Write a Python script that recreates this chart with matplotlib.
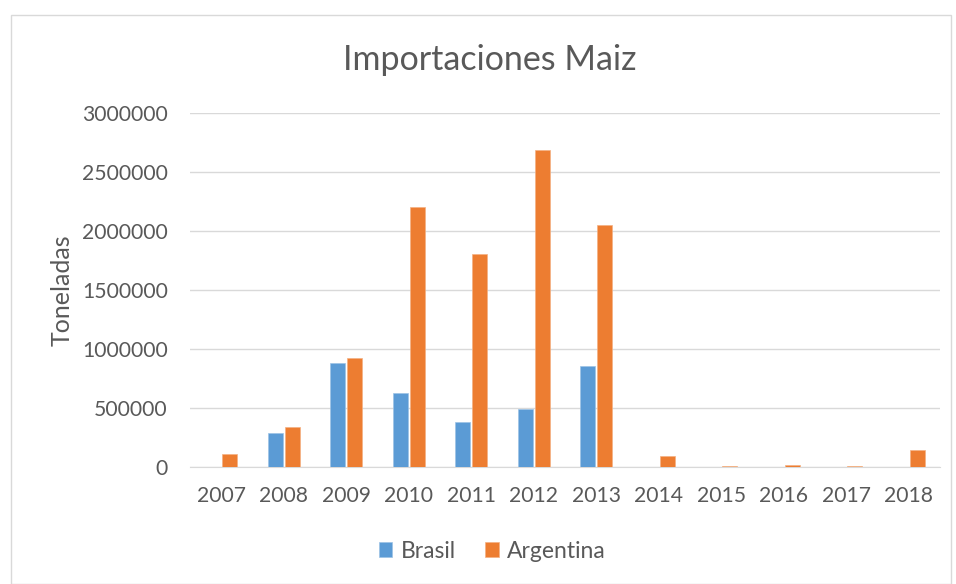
import numpy as np
import matplotlib.pyplot as plt
from matplotlib.patches import Rectangle

years = ['2007', '2008', '2009', '2010', '2011', '2012', '2013', '2014', '2015', '2016', '2017', '2018']
brasil = [0, 288000, 881000, 625000, 379000, 489000, 856000, 0, 0, 0, 0, 0]
argentina = [110000, 336000, 921000, 2203000, 1805000, 2686000, 2051000, 96000, 8000, 17000, 8000, 141000]

plt.rcParams['font.family'] = ['Lato', 'DejaVu Sans']
txt = '#595959'

fig = plt.figure(figsize=(9.56, 5.84), dpi=100)
fig.patches.append(Rectangle((0.011, 0.0), 0.984, 0.975, transform=fig.transFigure,
                             fill=False, edgecolor='#D9D9D9', lw=1))
ax = fig.add_axes([190 / 956, 1 - 467 / 584, 750 / 956, 354 / 584])

x = np.arange(len(years))
w = 0.235
ax.bar(x - 0.137, brasil, w, color='#5B9BD5', edgecolor='#9DC3E6', lw=0.5, label='Brasil', zorder=3)
ax.bar(x + 0.137, argentina, w, color='#ED7D31', edgecolor='#F4B183', lw=0.5, label='Argentina', zorder=3)

ax.set_xlim(-0.5, len(years) - 0.5)
ax.set_ylim(0, 3000000)
ax.set_yticks(np.arange(0, 3000001, 500000))
ax.set_yticklabels([str(v) for v in range(0, 3000001, 500000)])
ax.set_xticks(x)
ax.set_xticklabels(years)
ax.grid(axis='y', color='#D9D9D9', lw=1, zorder=0)
for s in ['top', 'right', 'left']:
    ax.spines[s].set_visible(False)
ax.spines['bottom'].set_color('#D9D9D9')
ax.tick_params(length=0, labelsize=15.2, colors=txt)
ax.tick_params(axis='x', pad=14)
ax.tick_params(axis='y', pad=16)

ax.set_ylabel('Toneladas', fontsize=18, color=txt, labelpad=6)
fig.text(0.512, 1 - 60 / 584, 'Importaciones Maiz', ha='center', va='center', fontsize=24.5, color=txt)
fig.legend(loc='center', bbox_to_anchor=(0.515, 1 - 551 / 584), ncol=2, frameon=False,
           fontsize=16.5, labelcolor=txt, handlelength=0.6, handleheight=0.6, columnspacing=1.3,
           handletextpad=0.35)

fig.savefig('out.png', dpi=100)
